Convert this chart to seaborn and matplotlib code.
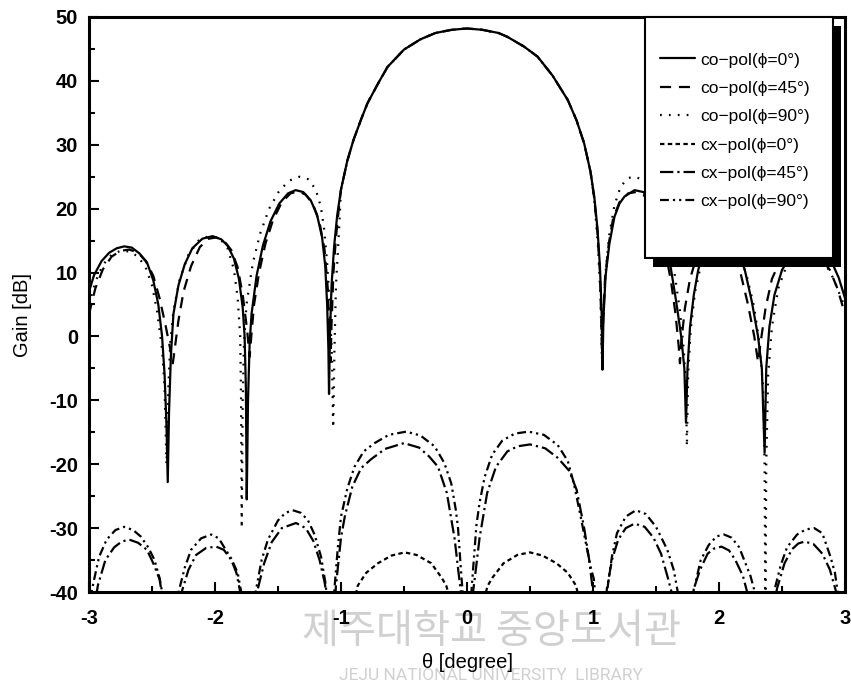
#!/usr/bin/env python
# -*- coding: utf-8 -*-
#
#  plot.py  -  far-field gain pattern, co-pol / cx-pol cuts

import numpy as np
import pandas as pd
import matplotlib
matplotlib.use('Agg')
import matplotlib.pyplot as plt
from matplotlib.patches import Rectangle
from matplotlib.ticker import MultipleLocator
import seaborn as sns

labels = ['co−pol(ϕ=0°)', 'co−pol(ϕ=45°)', 'co−pol(ϕ=90°)',
          'cx−pol(ϕ=0°)', 'cx−pol(ϕ=45°)', 'cx−pol(ϕ=90°)']

## main beam, shared by the three co-pol cuts
main_x = [-1.00, -0.95, -0.90, -0.84, -0.79, -0.70, -0.63, -0.50, -0.37, -0.25, -0.12,
          0.00, 0.12, 0.25, 0.32, 0.45, 0.56, 0.68, 0.80, 0.87, 0.93, 0.98]
main_y = [23.0, 27.5, 30.8, 34.0, 36.5, 39.8, 42.2, 44.9, 46.5, 47.5, 48.0,
          48.2, 48.0, 47.5, 46.9, 45.4, 43.8, 40.8, 37.0, 33.8, 30.2, 25.8]

## co-pol phi=0
co0_left_x = [-3.00, -2.96, -2.90, -2.84, -2.78, -2.72, -2.66, -2.60, -2.54, -2.49,
              -2.45, -2.42, -2.40, -2.385, -2.375, -2.365, -2.35, -2.33, -2.29, -2.24,
              -2.18, -2.10, -2.02, -1.95, -1.90, -1.85, -1.81, -1.78, -1.765, -1.755,
              -1.748, -1.738, -1.725, -1.71, -1.67, -1.62, -1.56, -1.49, -1.42, -1.36,
              -1.30, -1.24, -1.19, -1.15, -1.125, -1.11, -1.10, -1.095, -1.088, -1.075,
              -1.055, -1.03]
co0_left_y = [7.0, 9.6, 11.8, 13.1, 13.8, 14.1, 13.9, 13.0, 11.6, 8.8,
              5.0, 0.0, -6.0, -14.0, -22.8, -12.0, -3.0, 3.5, 8.0, 11.3,
              13.8, 15.3, 15.7, 15.2, 14.2, 12.2, 9.0, 4.5, 0.0, -8.0,
              -25.5, -10.0, -1.0, 3.5, 9.5, 14.2, 18.0, 20.8, 22.4, 22.9,
              22.6, 21.3, 19.0, 15.5, 11.0, 5.0, -2.0, -9.0, 0.0, 8.0,
              14.0, 19.0]
co0_right_x = [1.01, 1.035, 1.055, 1.068, 1.075, 1.083, 1.10, 1.13, 1.17, 1.21,
               1.25, 1.33, 1.40, 1.47, 1.53, 1.58, 1.62, 1.66, 1.70, 1.725,
               1.738, 1.75, 1.77, 1.80, 1.835, 1.88, 1.95, 2.02, 2.09, 2.15,
               2.205, 2.26, 2.31, 2.34, 2.362, 2.375, 2.40, 2.44, 2.50, 2.58,
               2.66, 2.72, 2.78, 2.84, 2.90, 2.95, 3.00]
co0_right_y = [21.9, 17.0, 11.0, 4.0, -5.2, 3.0, 9.5, 14.5, 18.7, 20.8,
               21.9, 22.9, 22.6, 21.0, 18.6, 15.0, 10.4, 5.5, 0.0, -5.0,
               -13.5, -5.0, 1.5, 6.5, 10.4, 13.5, 15.3, 15.7, 15.2, 13.5,
               10.4, 5.5, 0.0, -5.0, -18.2, -5.0, 1.5, 6.5, 10.4, 13.0,
               14.0, 14.1, 13.8, 13.0, 11.4, 9.2, 6.0]

## co-pol phi=45
co45_left_x = [-3.00, -2.95, -2.89, -2.82, -2.75, -2.68, -2.61, -2.55, -2.49, -2.44,
               -2.39, -2.35, -2.335, -2.32, -2.29, -2.25, -2.19, -2.12, -2.05, -1.99,
               -1.93, -1.87, -1.82, -1.78, -1.745, -1.725, -1.71, -1.69, -1.65, -1.60,
               -1.54, -1.47, -1.40, -1.34, -1.28, -1.22, -1.17, -1.13, -1.105, -1.09,
               -1.083, -1.075, -1.06, -1.04, -1.02]
co45_left_y = [3.5, 7.5, 10.5, 12.5, 13.4, 13.6, 13.1, 11.8, 9.5, 6.0,
               1.5, -2.5, -4.2, -2.0, 2.5, 7.0, 11.0, 14.0, 15.3, 15.5,
               15.0, 13.5, 10.8, 6.5, 1.0, -3.2, 0.5, 5.0, 10.0, 14.5,
               18.2, 21.0, 22.4, 22.7, 22.2, 20.6, 17.8, 13.5, 7.5, 0.0,
               -4.0, 2.0, 10.0, 15.5, 19.5]
co45_right_x = [1.01, 1.035, 1.055, 1.065, 1.072, 1.08, 1.095, 1.125, 1.16, 1.21,
                1.28, 1.34, 1.40, 1.47, 1.53, 1.58, 1.62, 1.655, 1.68, 1.69,
                1.70, 1.73, 1.77, 1.83, 1.90, 1.97, 2.04, 2.11, 2.17, 2.23,
                2.28, 2.31, 2.33, 2.37, 2.42, 2.50, 2.58, 2.66, 2.74, 2.82,
                2.88, 2.94, 3.00]
co45_right_y = [21.6, 16.5, 10.0, 3.0, -3.5, 2.0, 9.0, 14.5, 18.5, 21.0,
                22.4, 22.6, 22.2, 20.3, 17.2, 12.8, 8.5, 3.5, -1.5, -4.2,
                -1.0, 4.5, 9.0, 13.0, 15.0, 15.5, 15.0, 13.2, 10.0, 5.0,
                0.0, -4.0, -1.0, 4.5, 9.0, 12.5, 13.5, 13.6, 13.2, 12.0,
                10.4, 7.5, 3.5]

## co-pol phi=90
co90_left_x = [-3.00, -2.95, -2.89, -2.82, -2.75, -2.68, -2.61, -2.55, -2.50, -2.46,
               -2.42, -2.40, -2.385, -2.37, -2.355, -2.33, -2.28, -2.21, -2.13, -2.04,
               -1.96, -1.90, -1.85, -1.82, -1.80, -1.793, -1.788, -1.78, -1.77, -1.75,
               -1.70, -1.64, -1.57, -1.49, -1.41, -1.33, -1.26, -1.20, -1.16, -1.135,
               -1.11, -1.09, -1.072, -1.062, -1.052, -1.04, -1.02]
co90_left_y = [5.0, 8.5, 11.2, 12.8, 13.4, 13.3, 12.5, 10.8, 8.0, 4.0,
               -2.0, -8.0, -20.0, -8.0, -1.0, 4.0, 9.0, 12.8, 15.0, 15.8,
               15.3, 13.8, 10.5, 6.0, 0.0, -10.0, -30.0, -10.0, -1.0, 5.0,
               11.5, 16.2, 20.0, 22.8, 24.4, 25.0, 24.6, 23.0, 20.3, 17.0,
               11.5, 5.0, -3.0, -14.3, -2.0, 8.0, 15.0]
co90_right_x = [1.01, 1.04, 1.06, 1.07, 1.08, 1.10, 1.13, 1.17, 1.22, 1.28,
                1.33, 1.40, 1.47, 1.54, 1.60, 1.65, 1.69, 1.72, 1.738, 1.745,
                1.755, 1.775, 1.81, 1.86, 1.93, 2.01, 2.09, 2.16, 2.22, 2.28,
                2.32, 2.35, 2.362, 2.368, 2.375, 2.39, 2.42, 2.47, 2.55, 2.63,
                2.70, 2.77, 2.84, 2.91, 2.96, 3.00]
co90_right_y = [21.5, 14.0, 6.0, -3.0, 3.0, 10.0, 16.0, 20.5, 23.5, 24.8,
                25.0, 24.5, 22.6, 19.5, 15.0, 9.5, 4.0, -2.0, -8.0, -17.2,
                -6.0, 1.0, 7.0, 11.5, 14.6, 15.8, 15.3, 13.0, 9.5, 4.5,
                -1.0, -8.0, -20.0, -45.0, -20.0, -6.0, 1.5, 7.5, 11.8, 13.3,
                13.5, 13.0, 11.5, 9.0, 6.5, 4.5]

## cx-pol phi=0 (only the two lobes around +/-0.5 rise above -40 dB)
cx0_x = [-3.00, -0.90, -0.867, -0.80, -0.707, -0.60, -0.495, -0.40, -0.284, -0.20,
         -0.165, -0.12, 0.00, 0.12, 0.165, 0.20, 0.29, 0.40, 0.50, 0.60,
         0.71, 0.80, 0.865, 0.90, 3.00]
cx0_y = [-50, -42, -39, -37, -35.5, -34.3, -33.8, -34.2, -35.5, -37.8,
         -39, -42, -50, -42, -39, -37.8, -35.5, -34.2, -33.8, -34.3,
         -35.5, -37, -39, -42, -50]

## cx-pol phi=45
cx45_x = [-3.00, -2.93, -2.87, -2.80, -2.74, -2.68, -2.61, -2.54, -2.49, -2.44,
          -2.42, -2.35, -2.26, -2.21, -2.15, -2.07, -1.99, -1.93, -1.87, -1.83,
          -1.80, -1.74, -1.66, -1.61, -1.55, -1.47, -1.357, -1.28, -1.22, -1.17,
          -1.13, -1.11, -1.08, -1.04, -1.00, -0.97, -0.91, -0.84, -0.76, -0.65,
          -0.50, -0.38, -0.30, -0.23, -0.16, -0.098, -0.07, -0.045, 0.00, 0.045,
          0.07, 0.10, 0.16, 0.23, 0.32, 0.40, 0.50, 0.62, 0.72, 0.81,
          0.87, 0.93, 0.97, 1.00, 1.06, 1.11, 1.15, 1.20, 1.26, 1.33,
          1.41, 1.48, 1.54, 1.59, 1.63, 1.72, 1.80, 1.85, 1.91, 1.96,
          2.02, 2.08, 2.13, 2.19, 2.23, 2.36, 2.46, 2.52, 2.58, 2.63,
          2.68, 2.75, 2.82, 2.88, 2.93, 3.00]
cx45_y = [-48, -39.0, -35.0, -33.0, -32.1, -31.8, -32.3, -33.4, -35.5, -38.0,
          -40.5, -52, -39.7, -36.5, -34.2, -33.1, -32.9, -33.4, -35.0, -37.0,
          -40, -52, -39.5, -35.5, -32.2, -30.0, -29.2, -30.0, -32.0, -35.0,
          -38.5, -41, -52, -39, -31.5, -28.2, -23.5, -20.6, -19.2, -17.6,
          -16.7, -17.4, -18.8, -20.4, -24.5, -31.7, -36.5, -40.5, -55, -40.5,
          -36.5, -31.5, -24.5, -20.4, -18.0, -17.2, -16.9, -17.5, -19.0, -21.0,
          -24.0, -30.0, -35.0, -40, -52, -39.5, -35.0, -31.8, -30.0, -29.3,
          -29.8, -31.5, -34.0, -37.5, -40.5, -52, -39.5, -36.5, -34.0, -33.2,
          -32.9, -33.5, -35.0, -37.5, -40.5, -52, -39.5, -35.5, -33.3, -32.4,
          -32.1, -32.5, -34.0, -36.5, -40.0, -48]

## cx-pol phi=90
cx90_x = [-3.00, -2.96, -2.92, -2.86, -2.79, -2.72, -2.65, -2.59, -2.53, -2.48,
          -2.44, -2.42, -2.35, -2.285, -2.24, -2.19, -2.11, -2.03, -1.97, -1.93,
          -1.87, -1.82, -1.795, -1.74, -1.675, -1.63, -1.58, -1.50, -1.44, -1.383,
          -1.32, -1.264, -1.21, -1.158, -1.12, -1.09, -1.05, -1.025, -1.00, -0.95,
          -0.893, -0.82, -0.734, -0.62, -0.483, -0.37, -0.257, -0.18, -0.125, -0.09,
          -0.072, -0.05, -0.035, 0.00, 0.035, 0.05, 0.075, 0.10, 0.14, 0.20,
          0.28, 0.38, 0.49, 0.61, 0.72, 0.80, 0.848, 0.90, 0.95, 0.98,
          1.007, 1.06, 1.113, 1.15, 1.19, 1.26, 1.34, 1.42, 1.50, 1.59,
          1.64, 1.67, 1.74, 1.80, 1.855, 1.92, 1.98, 2.04, 2.10, 2.16,
          2.20, 2.25, 2.28, 2.36, 2.44, 2.49, 2.54, 2.62, 2.69, 2.756,
          2.82, 2.885, 2.92, 2.94, 3.00]
cx90_y = [-42, -38.1, -34.5, -31.8, -30.3, -29.8, -30.3, -31.3, -33.0, -35.0,
          -37.8, -40, -50, -39.7, -36.2, -33.4, -31.6, -31.0, -31.6, -32.9,
          -34.8, -37.0, -39.7, -50, -39.7, -35.0, -31.8, -28.8, -27.6, -27.2,
          -27.6, -28.7, -31.0, -34.5, -39.0, -50, -39.0, -33.0, -28.2, -23.8,
          -20.4, -18.0, -16.7, -15.4, -14.9, -15.5, -17.2, -19.8, -23.0, -27.0,
          -29.8, -36.0, -40, -55, -40, -36.0, -29.5, -26.0, -22.0, -18.5,
          -16.3, -15.2, -14.9, -15.4, -17.0, -19.5, -23.0, -28.0, -33.0, -36.0,
          -38.0, -50, -39.7, -34.5, -30.8, -28.2, -27.2, -27.8, -29.8, -33.4,
          -36.5, -39.7, -50, -39.7, -35.0, -32.6, -31.3, -31.0, -31.5, -33.0,
          -35.0, -37.5, -39.7, -50, -39.7, -35.8, -33.0, -31.0, -30.2, -30.0,
          -30.8, -34.5, -37.0, -39.7, -45]


def build_frame():
    series = {
        labels[0]: (co0_left_x + main_x + co0_right_x, co0_left_y + main_y + co0_right_y),
        labels[1]: (co45_left_x + main_x + co45_right_x, co45_left_y + main_y + co45_right_y),
        labels[2]: (co90_left_x + main_x + co90_right_x, co90_left_y + main_y + co90_right_y),
        labels[3]: (cx0_x, cx0_y),
        labels[4]: (cx45_x, cx45_y),
        labels[5]: (cx90_x, cx90_y),
    }
    frames = []
    for name, (xs, ys) in series.items():
        assert len(xs) == len(ys), name
        frames.append(pd.DataFrame({'theta': xs, 'gain': ys, 'series': name}))
    return pd.concat(frames, ignore_index=True)


def main():
    df = build_frame()

    sns.set_style('white')
    plt.rcParams['font.family'] = ['Liberation Sans', 'DejaVu Sans']
    plt.rcParams['axes.unicode_minus'] = False
    plt.rcParams['text.color'] = 'black'
    plt.rcParams['axes.labelcolor'] = 'black'
    plt.rcParams['xtick.color'] = 'black'
    plt.rcParams['ytick.color'] = 'black'

    fig = plt.figure(figsize=(8.51, 6.98), dpi=100)
    ax = fig.add_axes([89 / 851, 1 - 592 / 698, 756 / 851, 575 / 698])

    palette = {name: 'black' for name in labels}
    dashes = {
        labels[0]: '',
        labels[1]: (5, 3.5),
        labels[2]: (0.8, 3.2),
        labels[3]: (2, 1.5),
        labels[4]: (6, 1.8, 1, 1.8),
        labels[5]: (4, 1.8, 1, 1.8, 1, 1.8),
    }
    sns.lineplot(data=df, x='theta', y='gain', hue='series', style='series',
                 hue_order=labels, style_order=labels, palette=palette,
                 dashes=dashes, estimator=None, sort=False, lw=1.6, ax=ax)

    ax.set_xlim(-3, 3)
    ax.set_ylim(-40, 50)
    ax.xaxis.set_major_locator(MultipleLocator(1))
    ax.xaxis.set_minor_locator(MultipleLocator(0.5))
    ax.yaxis.set_major_locator(MultipleLocator(10))
    ax.yaxis.set_minor_locator(MultipleLocator(5))
    ax.tick_params(which='both', direction='in', width=1.5, bottom=True, left=True,
                   colors='black')
    ax.tick_params(which='major', length=7)
    ax.tick_params(which='minor', length=4)
    ax.tick_params(axis='x', pad=12)
    ax.tick_params(axis='y', pad=8)
    for lab in ax.get_xticklabels() + ax.get_yticklabels():
        lab.set_fontweight('bold')
        lab.set_fontsize(14.5)
    for sp in ax.spines.values():
        sp.set_linewidth(2.2)
        sp.set_color('black')

    ax.set_xlabel('θ [degree]', fontsize=14.5, color='black')
    ax.set_ylabel('Gain [dB]', fontsize=14.5, color='black')
    ax.xaxis.set_label_coords(0.5, -0.106)
    ax.yaxis.set_label_coords(-0.0754, 0.482)

    ## legend box with heavy drop shadow
    bx, by, bw, bh = 0.7354, 0.581, 0.2486, 0.419
    ax.add_patch(Rectangle((bx + 0.0106, by - 0.0157), bw, bh, transform=ax.transAxes,
                           facecolor='black', edgecolor='none', zorder=5, clip_on=False))
    ax.add_patch(Rectangle((bx, by), bw, bh, transform=ax.transAxes,
                           facecolor='white', edgecolor='black', lw=1.5, zorder=6,
                           clip_on=False))
    handles, labs = ax.get_legend_handles_labels()
    ax.get_legend().remove()
    leg = ax.legend(handles, labs, frameon=False, loc='center',
                    bbox_to_anchor=(0.8545, 0.802), fontsize=12.5, handlelength=2.0,
                    handletextpad=0.3, labelspacing=0.76, borderpad=0,
                    labelcolor='black')
    leg.set_zorder(7)

    ## library watermark under the axis
    fig.text(492 / 851, 1 - 631 / 698, '제주대학교 중앙도서관', fontsize=29,
             color='#d0d0d0', family=['Noto Sans CJK KR', 'DejaVu Sans'],
             ha='center', va='center', zorder=-1)
    fig.text(491 / 851, 1 - 676 / 698, 'JEJU NATIONAL UNIVERSITY  LIBRARY', fontsize=12.5,
             color='#d0d0d0', family=['Roboto', 'DejaVu Sans'],
             ha='center', va='center', zorder=-1)

    fig.savefig('out.png', dpi=100)
    return 0


if __name__ == '__main__':
    import sys
    sys.exit(main())
